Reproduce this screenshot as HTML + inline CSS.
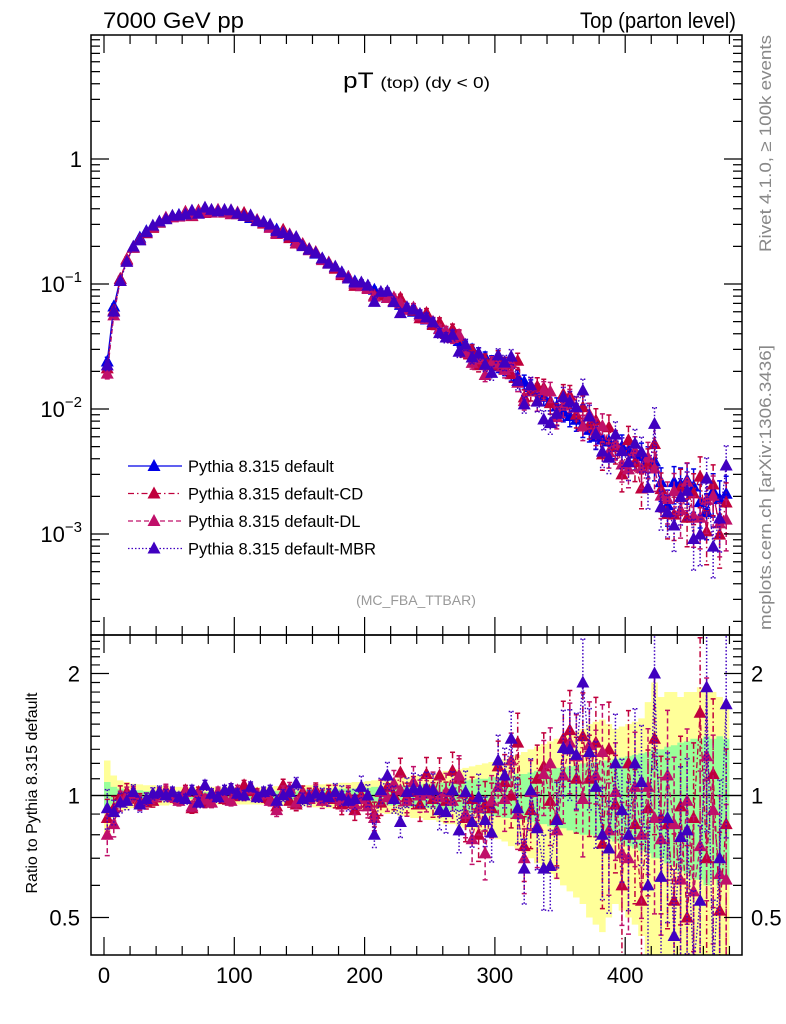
<!DOCTYPE html>
<html><head><meta charset="utf-8"><style>
html,body{margin:0;padding:0;background:#fff;overflow:hidden;}
svg{display:block;font-family:"Liberation Sans",sans-serif;}
</style></head><body>
<svg id="c" width="786" height="1024" viewBox="0 0 786 1024" xmlns="http://www.w3.org/2000/svg">
<defs>
<clipPath id="cm"><rect x="91" y="35" width="651" height="600"/></clipPath>
<clipPath id="cr"><rect x="91" y="635" width="651" height="320"/></clipPath>
</defs>
<text x="103" y="28" font-size="22" textLength="141" lengthAdjust="spacingAndGlyphs">7000 GeV pp</text>
<text x="580" y="28" font-size="22" textLength="156" lengthAdjust="spacingAndGlyphs">Top (parton level)</text>
<text x="343" y="88" font-size="22" textLength="147" lengthAdjust="spacingAndGlyphs">pT <tspan font-size="16">(top) (dy &lt; 0)</tspan></text>
<text x="416" y="605" font-size="14" fill="#999" text-anchor="middle">(MC_FBA_TTBAR)</text>
<text transform="translate(771,252) rotate(-90)" font-size="17" fill="#888" textLength="217" lengthAdjust="spacingAndGlyphs">Rivet 4.1.0, ≥ 100k events</text>
<text transform="translate(771,630) rotate(-90)" font-size="17" fill="#888" textLength="285" lengthAdjust="spacingAndGlyphs">mcplots.cern.ch [arXiv:1306.3436]</text>
<text transform="translate(37,793) rotate(-90)" font-size="16" text-anchor="middle">Ratio to Pythia 8.315 default</text>
<g id="bands" clip-path="url(#cr)"></g>
<g id="ratio" clip-path="url(#cr)"></g>
<g id="main" clip-path="url(#cm)"></g>
<g id="axes"></g>
<g id="legend"></g>
</svg>
<script>
const binCenters=[2.5,7.5,12.5,17.5,22.5,27.5,32.5,37.5,42.5,47.5,52.5,57.5,62.5,67.5,72.5,77.5,82.5,87.5,92.5,97.5,102.5,107.5,112.5,117.5,122.5,127.5,132.5,137.5,142.5,147.5,152.5,157.5,162.5,167.5,172.5,177.5,182.5,187.5,192.5,197.5,202.5,207.5,212.5,217.5,222.5,227.5,232.5,237.5,242.5,247.5,252.5,257.5,262.5,267.5,272.5,277.5,282.5,287.5,292.5,297.5,302.5,307.5,312.5,317.5,322.5,327.5,332.5,337.5,342.5,347.5,352.5,357.5,362.5,367.5,372.5,377.5,382.5,387.5,392.5,397.5,402.5,407.5,412.5,417.5,422.5,427.5,432.5,437.5,442.5,447.5,452.5,457.5,462.5,467.5,472.5,477.5];
const defaultValues=[0.024,0.066,0.11,0.155,0.195,0.235,0.265,0.29,0.31,0.33,
0.345,0.357,0.367,0.375,0.38,0.385,0.388,0.385,0.38,0.373,
0.362,0.35,0.337,0.322,0.307,0.29,0.273,0.256,0.24,0.222,
0.205,0.19,0.175,0.16,0.147,0.135,0.124,0.114,0.105,0.098,
0.097,0.09,0.084,0.078,0.073,0.068,0.064,0.06,0.056,0.052,
0.048,0.044,0.041,0.038,0.035,0.032,0.03,0.028,0.026,0.024,
0.022,0.021,0.019,0.018,0.0165,0.015,0.0138,0.0125,0.0115,0.0105,
0.0095,0.0088,0.0082,0.0074,0.0068,0.006,0.0057,0.0055,0.0052,0.005,
0.0047,0.0044,0.0042,0.0039,0.0038,0.0026,0.0017,0.0026,0.0025,0.0027,
0.0024,0.0018,0.0015,0.0022,0.0019,0.0021];
const ratioCD=[0.88,0.93,1.00,1.02,1.00,0.97,0.96,0.97,1.00,1.02,
1.01,0.98,1.03,0.93,1.02,0.96,1.00,1.01,0.98,1.04,
1.00,1.06,1.03,1.01,0.99,0.98,0.94,1.06,0.97,0.95,
1.02,1.00,1.03,0.99,1.01,0.98,0.95,0.99,0.92,1.00,
0.96,0.90,0.96,1.05,1.00,1.14,0.99,1.02,0.95,1.13,
0.98,1.12,0.97,1.15,1.10,0.88,0.98,0.80,0.95,0.93,
1.18,1.08,1.00,1.35,0.75,0.92,1.10,1.18,0.97,0.88,
1.38,1.45,1.10,1.40,1.10,1.35,0.76,1.30,0.95,0.60,
1.20,0.85,0.55,0.93,1.38,0.88,0.85,0.55,0.94,0.50,
0.88,1.60,0.70,1.13,0.52,0.85];
const ratioDL=[0.80,0.85,0.97,1.00,1.01,0.96,0.98,0.99,1.01,1.03,
0.99,0.97,1.02,0.94,1.00,0.98,0.96,1.02,0.99,0.97,
1.03,1.00,1.04,1.00,1.01,0.97,0.92,1.02,1.04,0.96,
1.00,0.98,1.02,0.97,0.99,1.01,0.97,1.00,0.95,0.98,
0.94,0.88,1.02,0.99,1.07,1.03,0.97,1.08,1.00,1.01,
1.04,0.99,1.02,0.97,1.12,0.90,0.78,0.93,0.72,0.97,
1.05,0.98,1.22,0.90,0.70,1.02,0.84,1.13,1.20,0.82,
1.12,1.35,1.25,0.98,1.33,1.12,1.28,0.82,1.02,0.72,
0.70,1.05,0.80,1.05,0.88,0.78,1.12,0.85,0.62,0.97,
0.58,0.75,1.25,0.92,0.64,0.62];
const ratioMBR=[0.93,0.91,0.96,0.97,1.02,0.95,0.98,1.01,1.02,1.00,
1.02,0.99,0.98,1.03,0.96,1.06,1.01,0.99,1.03,1.04,
1.01,1.00,1.05,0.99,1.02,1.03,0.97,1.00,1.02,1.07,
0.98,0.99,1.01,1.00,0.99,1.02,1.00,0.97,0.98,1.05,
1.00,0.80,1.03,1.12,0.98,0.86,1.02,1.04,1.03,1.04,
1.03,0.92,0.91,1.03,0.82,1.02,0.86,0.99,0.87,0.81,
1.22,1.12,1.38,0.93,0.66,1.03,0.83,0.66,0.67,0.87,
1.31,1.30,1.26,1.90,1.28,1.05,0.80,0.74,1.20,0.92,
0.80,1.20,1.08,0.60,2.00,0.63,0.88,0.45,0.79,0.82,
0.38,0.55,1.85,0.36,0.70,1.68];
const statErr=[0.08,0.05,0.04,0.035,0.03,0.03,0.025,0.025,0.025,0.025,
0.02,0.02,0.02,0.02,0.02,0.02,0.02,0.02,0.02,0.02,
0.02,0.02,0.02,0.02,0.02,0.02,0.025,0.025,0.025,0.025,
0.025,0.03,0.03,0.03,0.035,0.035,0.04,0.04,0.04,0.045,
0.045,0.05,0.05,0.055,0.055,0.06,0.06,0.065,0.065,0.07,
0.07,0.075,0.08,0.08,0.085,0.09,0.095,0.1,0.1,0.11,
0.11,0.12,0.12,0.13,0.13,0.14,0.15,0.15,0.16,0.17,
0.17,0.18,0.19,0.2,0.2,0.21,0.22,0.22,0.23,0.24,
0.25,0.26,0.27,0.28,0.3,0.3,0.32,0.33,0.35,0.36,
0.38,0.38,0.4,0.38,0.4,0.38];
const totalErr=[0.22,0.12,0.09,0.08,0.07,0.065,0.06,0.06,0.055,0.055,
0.05,0.05,0.05,0.05,0.05,0.05,0.05,0.05,0.05,0.05,
0.05,0.05,0.05,0.05,0.05,0.05,0.055,0.055,0.055,0.06,
0.06,0.06,0.065,0.065,0.07,0.07,0.075,0.075,0.08,0.08,
0.085,0.09,0.095,0.1,0.1,0.11,0.11,0.12,0.12,0.13,
0.13,0.14,0.15,0.15,0.16,0.17,0.18,0.19,0.2,0.21,
0.22,0.23,0.25,0.26,0.28,0.3,0.32,0.34,0.36,0.38,
0.4,0.42,0.44,0.46,0.5,0.52,0.54,0.5,0.46,0.48,
0.5,0.52,0.55,0.7,0.9,0.75,0.8,0.8,0.75,0.8,
0.8,0.85,0.85,0.8,0.75,0.7];
const xTicks=[0,100,200,300,400];
const binWidth=5;

const NS="http://www.w3.org/2000/svg";
function mk(parent,tag,attrs){const e=document.createElementNS(NS,tag);for(const k in attrs)e.setAttribute(k,attrs[k]);parent.appendChild(e);return e;}
const xs=v=>104+v*1.303;
const ym=v=>159-125*Math.log10(v);
const yr=r=>795.5-122*Math.log2(Math.max(r,0.05));

const gB=document.getElementById('bands'),gR=document.getElementById('ratio'),gM=document.getElementById('main'),gA=document.getElementById('axes'),gL=document.getElementById('legend');

function band(err,color,name){
  let up="",dn="";
  for(let i=0;i<binCenters.length;i++){
    const x0=xs(binCenters[i]-binWidth/2),x1=xs(binCenters[i]+binWidth/2);
    up+=(i?"L":"M")+x0+","+yr(1+err[i])+"L"+x1+","+yr(1+err[i]);
    dn=" L"+x1+","+yr(Math.max(1-err[i],0.05))+"L"+x0+","+yr(Math.max(1-err[i],0.05))+dn;
  }
  const p=mk(gB,'path',{d:up+dn+"Z",fill:color,stroke:'none'});
  
  
}
band(totalErr,'#ffff99','ratio-total-uncertainty-band');
band(statErr,'#99ff99','ratio-stat-uncertainty-band');
const one=mk(gR,'line',{x1:91,x2:742,y1:yr(1),y2:yr(1),stroke:'#000','stroke-width':1.3});



function tri(g,x,y,c){return mk(g,'path',{d:`M${x},${y-7}L${x+6.5},${y+5}L${x-6.5},${y+5}Z`,fill:c});}

const series=[
 {name:'default',ratio:null,color:'#0000e6',dash:'',label:'Pythia 8.315 default'},
 {name:'default-cd',ratio:ratioCD,color:'#c0003c',dash:'6,3,1.5,3',label:'Pythia 8.315 default-CD'},
 {name:'default-dl',ratio:ratioDL,color:'#c0106a',dash:'5,3',label:'Pythia 8.315 default-DL'},
 {name:'default-mbr',ratio:ratioMBR,color:'#4000c0',dash:'1.5,2',label:'Pythia 8.315 default-MBR'}
];
series.forEach((s,si)=>{
  const vals=defaultValues.map((v,i)=>s.ratio?v*s.ratio[i]:v);
  const eScale=s.ratio?1.15:1;
  const gm=mk(gM,'g',{});
  
  
  const pts=vals.map((v,i)=>xs(binCenters[i])+","+ym(v)).join(" ");
  const pl=mk(gm,'polyline',{points:pts,fill:'none',stroke:s.color,'stroke-width':1.3,'stroke-dasharray':s.dash});
  
  
  vals.forEach((v,i)=>{
    const x=xs(binCenters[i]),e=statErr[i]*eScale;
    const y1=ym(v*(1+e)),y2=ym(Math.max(v*(1-e),1e-5));
    const eb=mk(gm,'path',{d:`M${x},${y1}L${x},${y2}M${x-2.5},${y1}L${x+2.5},${y1}M${x-2.5},${y2}L${x+2.5},${y2}`,stroke:s.color,'stroke-width':1.5,'stroke-dasharray':s.dash,fill:'none'});
    
    
    const m=tri(gm,x,ym(v),s.color);
    
    
  });
  if(s.ratio){
    const gr=mk(gR,'g',{});
    
    
    const rp=s.ratio.map((r,i)=>xs(binCenters[i])+","+yr(r)).join(" ");
    const rl=mk(gr,'polyline',{points:rp,fill:'none',stroke:s.color,'stroke-width':1.3,'stroke-dasharray':s.dash});
    
    
    s.ratio.forEach((r,i)=>{
      const x=xs(binCenters[i]),e=statErr[i]*1.4;
      const y1=yr(r*(1+e)),y2=yr(r*(1-e));
      const eb=mk(gr,'path',{d:`M${x},${y1}L${x},${y2}M${x-2.5},${y1}L${x+2.5},${y1}M${x-2.5},${y2}L${x+2.5},${y2}`,stroke:s.color,'stroke-width':1.5,'stroke-dasharray':s.dash,fill:'none'});
      
      
      const m=tri(gr,x,yr(r),s.color);
      
      
    });
  }
  const ly=466+si*27.5;
  const lg=mk(gL,'g',{});
  
  
  mk(lg,'line',{x1:128,x2:182,y1:ly,y2:ly,stroke:s.color,'stroke-width':1.3,'stroke-dasharray':s.dash});
  tri(lg,154,ly,s.color);
  const t=mk(lg,'text',{x:188,y:ly+6,'font-size':16.5});
  t.textContent=s.label;
});

[[91,35,651,600,'main-plot-frame'],[91,635,651,320,'ratio-plot-frame']].forEach(f=>{
  const r=mk(gA,'rect',{x:f[0],y:f[1],width:f[2],height:f[3],fill:'none',stroke:'#000','stroke-width':1.5});
  
  
});
let tk="";
for(let v=0;v<=490;v+=20){
  const x=xs(v),big=v%100===0,L=big?18:9;
  tk+=`M${x},35L${x},${35+L}M${x},635L${x},${635-L}M${x},635L${x},${635+L}M${x},955L${x},${955-L}`;
}
for(let d=-4;d<=1;d++){
  for(let k=1;k<10;k++){
    const v=k*Math.pow(10,d);const y=ym(v);
    if(y<35||y>635)continue;
    const L=k===1?18:9;
    tk+=`M91,${y}L${91+L},${y}M742,${y}L${742-L},${y}`;
  }
}
[0.5,0.6,0.7,0.8,0.9,1,1.1,1.2,1.3,1.4,1.5,1.6,1.7,1.8,1.9,2,2.1,2.2,2.3,2.4].forEach(v=>{
  const y=yr(v);if(y<635||y>955)return;
  const L=(v===0.5||v===1||v===2)?18:9;
  tk+=`M91,${y}L${91+L},${y}M742,${y}L${742-L},${y}`;
});
const tp=mk(gA,'path',{d:tk,stroke:'#000','stroke-width':1.2,fill:'none'});



xTicks.forEach(v=>{
  const t=mk(gA,'text',{x:xs(v),y:983,'font-size':22,'text-anchor':'middle'});
  
  
  t.textContent=String(v);
});
const t1=mk(gA,'text',{x:82,y:ym(1)+8,'font-size':22,'text-anchor':'end'});


t1.textContent='1';
[-1,-2,-3].forEach(d=>{
  const t=mk(gA,'text',{x:82,y:ym(Math.pow(10,d))+8,'font-size':22,'text-anchor':'end'});
  
  
  t.innerHTML=`10<tspan font-size="15" dy="-10">−${-d}</tspan>`;
});
[[2,'2'],[1,'1'],[0.5,'0.5']].forEach(p=>{
  const a=mk(gA,'text',{x:80,y:yr(p[0])+8,'font-size':22,'text-anchor':'end'});
  
  
  a.textContent=p[1];
  const b=mk(gA,'text',{x:751,y:yr(p[0])+8,'font-size':22});
  
  
  b.textContent=p[1];
});
</script>
</body></html>
